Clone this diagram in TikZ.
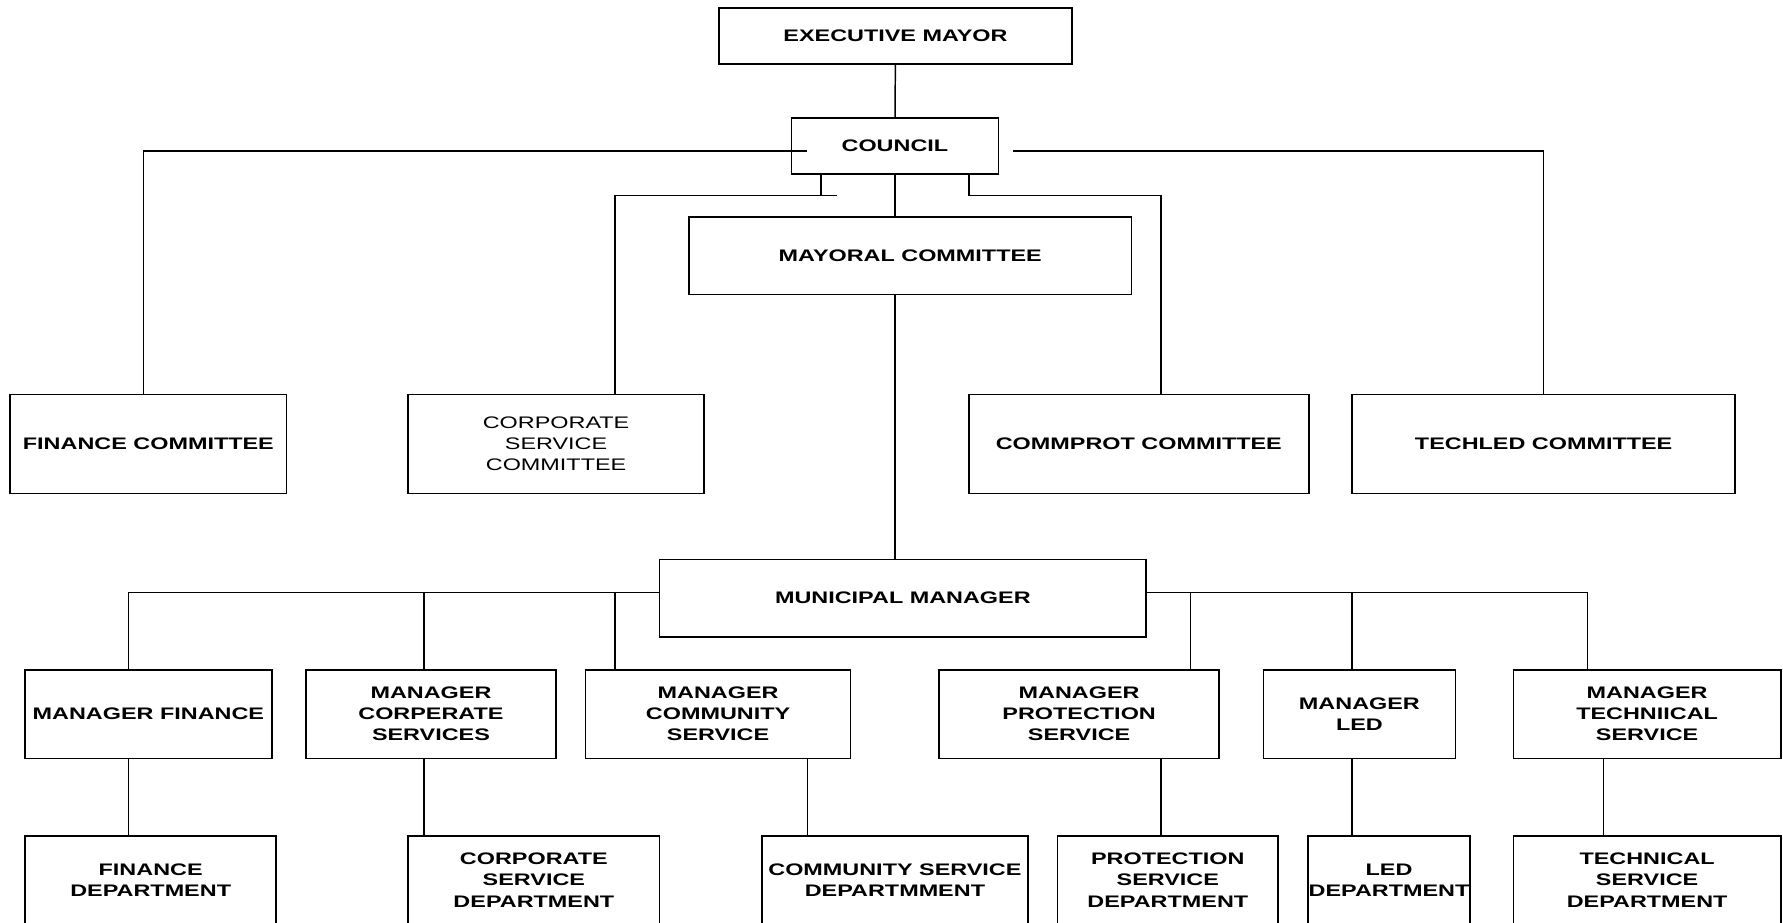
\documentclass[tikz,border=0pt]{standalone}
\usepackage{fontspec}
\setmainfont[FakeStretch=1.4]{Liberation Sans}

\begin{document}
\begin{tikzpicture}[x=1pt,y=-1pt,
  orgbox/.style={draw,line width=1.5pt,inner sep=0pt,align=center,font=\fontsize{14.7}{18.5}\selectfont\bfseries},
  plainbox/.style={orgbox,font=\fontsize{14.7}{18.5}\selectfont},
  link/.style={line width=1.3pt}]
\useasboundingbox (0,0) rectangle (1568,811);
\clip (0,0) rectangle (1568,811);
\node [orgbox,minimum width=311pt,minimum height=49pt] (mayor) at (787.5,31.5) {EXECUTIVE MAYOR};
\node [orgbox,minimum width=182pt,minimum height=49pt] (council) at (787,128.5) {COUNCIL};
\node [orgbox,minimum width=389pt,minimum height=68pt] (mayoral) at (800.5,225) {MAYORAL COMMITTEE};
\node [orgbox,minimum width=243pt,minimum height=87pt] (fincom) at (130.5,390.5) {FINANCE COMMITTEE};
\node [plainbox,minimum width=260pt,minimum height=87pt] (corpcom) at (489,390.5) {CORPORATE\\SERVICE\\COMMITTEE};
\node [orgbox,minimum width=299pt,minimum height=87pt] (protcom) at (1001.5,390.5) {COMMPROT COMMITTEE};
\node [orgbox,minimum width=337pt,minimum height=87pt] (techcom) at (1357.5,390.5) {TECHLED COMMITTEE};
\node [orgbox,minimum width=428pt,minimum height=68pt] (munic) at (794,526) {MUNICIPAL MANAGER};
\node [orgbox,minimum width=217pt,minimum height=78pt] (mfin) at (130.5,628) {MANAGER FINANCE};
\node [orgbox,minimum width=220pt,minimum height=78pt] (mcorp) at (379,628) {MANAGER\\CORPERATE\\SERVICES};
\node [orgbox,minimum width=233pt,minimum height=78pt] (mcom) at (631.5,628) {MANAGER\\COMMUNITY\\SERVICE};
\node [orgbox,minimum width=246pt,minimum height=78pt] (mprot) at (949,628) {MANAGER\\PROTECTION\\SERVICE};
\node [orgbox,minimum width=169pt,minimum height=78pt] (mled) at (1195.5,628) {MANAGER\\LED};
\node [orgbox,minimum width=235pt,minimum height=78pt] (mtech) at (1448.5,628) {MANAGER\\TECHNIICAL\\SERVICE};
\node [orgbox,minimum width=221pt,minimum height=78pt] (dfin) at (132.5,774) {FINANCE\\DEPARTMENT};
\node [orgbox,minimum width=221pt,minimum height=78pt] (dcorp) at (469.5,774) {CORPORATE\\SERVICE\\DEPARTMENT};
\node [orgbox,minimum width=234pt,minimum height=78pt] (dcom) at (787,774) {COMMUNITY SERVICE\\DEPARTMMENT};
\node [orgbox,minimum width=194pt,minimum height=78pt] (dprot) at (1027,774) {PROTECTION\\SERVICE\\DEPARTMENT};
\node [orgbox,minimum width=143pt,minimum height=78pt] (dled) at (1221.5,774) {LED\\DEPARTMENT};
\node [orgbox,minimum width=235pt,minimum height=78pt] (dtech) at (1448.5,774) {TECHNICAL\\SERVICE\\DEPARTMENT};
\coordinate (cl) at (710,133);
\coordinate (cr) at (891,133);
\coordinate (jl) at (736,172);
\coordinate (jr) at (1021,172);
\coordinate (busl) at (113,521);
\coordinate (busr) at (1396,521);
\draw [link] (mayor) -- (council);
\draw [link] (cl) -| ([xshift=-4.5pt]fincom.north);
\draw [link] (cr) -| (techcom.north);
\draw [link] ([xshift=-65pt]council.south) -- ([xshift=-65pt]council.south |- jl);
\draw [link] (jl) -| ([xshift=52pt]corpcom.north);
\draw [link] ([xshift=65pt]council.south) |- (jr) -- (jr |- protcom.north);
\draw [link] (council.south) -- (council.south |- mayoral.north);
\draw [link] (council.south |- mayoral.south) -- (council.south |- munic.north);
\draw [link] (munic.west |- busl) -- (busl) -- (busl |- mfin.north);
\draw [link] (munic.east |- busr) -- (busr) -- (busr |- mtech.north);
\draw [link] ([xshift=-6pt]mcorp.north) -- ([xshift=-6pt]mcorp.north |- busl);
\draw [link] ([xshift=-90.5pt]mcom.north) -- ([xshift=-90.5pt]mcom.north |- busl);
\draw [link] ([xshift=98pt]mprot.north) -- ([xshift=98pt]mprot.north |- busr);
\draw [link] ([xshift=-6.5pt]mled.north) -- ([xshift=-6.5pt]mled.north |- busr);
\draw [link] (busl |- mfin.south) -- (busl |- dfin.north);
\draw [link] ([xshift=-6pt]mcorp.south) -- ([xshift=-6pt]mcorp.south |- dcorp.north);
\draw [link] ([xshift=78.5pt]mcom.south) -- ([xshift=78.5pt]mcom.south |- dcom.north);
\draw [link] ([xshift=72pt]mprot.south) -- ([xshift=72pt]mprot.south |- dprot.north);
\draw [link] ([xshift=-6.5pt]mled.south) -- ([xshift=-6.5pt]mled.south |- dled.north);
\draw [link] ([xshift=-38.5pt]mtech.south) -- ([xshift=-38.5pt]mtech.south |- dtech.north);
\end{tikzpicture}
\end{document}
